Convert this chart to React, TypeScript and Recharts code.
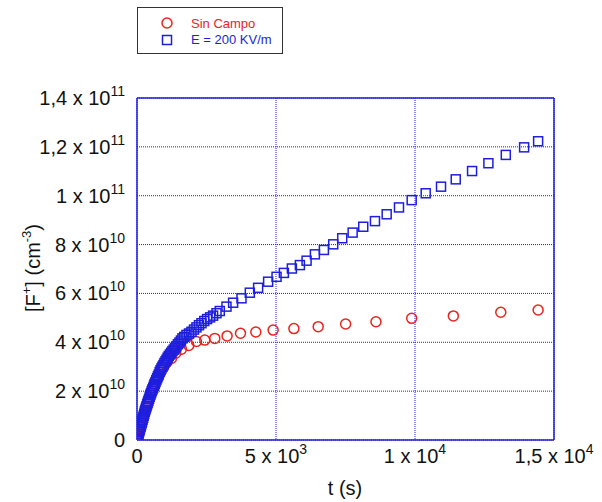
import { ScatterChart, Scatter, XAxis, YAxis, CartesianGrid, ReferenceLine, Legend } from 'recharts';

// Sin Campo (red circles): time in s, [F+] in cm^-3 (x 1e10)
const sinCampoT = [0, 15, 30, 45, 60, 75, 90, 105, 120, 135, 150, 173, 197, 225, 257, 293, 334, 381, 434, 495, 564, 643, 733, 836, 953, 1087, 1239, 1394, 1599, 1862, 2139, 2438, 2798, 3241, 3723, 4274, 4897, 5643, 6518, 7505, 8596, 9881, 11379, 13086, 14429];
const sinCampoF = [0, 0.06, 0.12, 0.19, 0.25, 0.31, 0.38, 0.44, 0.5, 0.56, 0.62, 0.71, 0.81, 0.92, 1.05, 1.19, 1.35, 1.52, 1.72, 1.93, 2.15, 2.38, 2.58, 2.76, 2.98, 3.2, 3.34, 3.55, 3.72, 3.87, 4.03, 4.09, 4.16, 4.26, 4.37, 4.42, 4.5, 4.56, 4.64, 4.75, 4.84, 4.98, 5.08, 5.23, 5.32];

// E = 200 KV/m (blue squares)
const campoT = [0, 18, 36, 54, 72, 90, 108, 126, 144, 162, 180, 200, 220, 240, 260, 280, 300, 322, 344, 366, 388, 410, 434, 458, 482, 506, 532, 558, 584, 610, 638, 666, 694, 724, 754, 784, 816, 848, 882, 916, 952, 988, 1026, 1064, 1104, 1144, 1186, 1230, 1276, 1322, 1370, 1420, 1472, 1526, 1580, 1635, 1700, 1779, 1870, 1959, 2050, 2139, 2230, 2319, 2420, 2521, 2630, 2737, 2860, 2978, 3219, 3457, 3759, 4058, 4357, 4717, 5020, 5283, 5571, 5859, 6100, 6399, 6723, 7058, 7382, 7757, 8138, 8560, 8981, 9424, 9881, 10385, 10936, 11465, 12053, 12640, 13266, 13925, 14429];
const campoF = [0, 0.08, 0.16, 0.24, 0.32, 0.39, 0.46, 0.54, 0.61, 0.68, 0.75, 0.83, 0.91, 0.99, 1.07, 1.16, 1.23, 1.31, 1.38, 1.46, 1.53, 1.6, 1.68, 1.77, 1.85, 1.92, 2.0, 2.07, 2.14, 2.22, 2.29, 2.37, 2.45, 2.53, 2.61, 2.68, 2.78, 2.86, 2.93, 3.0, 3.07, 3.15, 3.22, 3.29, 3.37, 3.44, 3.5, 3.57, 3.64, 3.7, 3.77, 3.84, 3.92, 3.99, 4.07, 4.16, 4.22, 4.3, 4.36, 4.43, 4.52, 4.61, 4.7, 4.78, 4.87, 4.95, 5.02, 5.09, 5.19, 5.28, 5.46, 5.62, 5.8, 6.03, 6.23, 6.48, 6.68, 6.84, 7.02, 7.16, 7.34, 7.6, 7.78, 8.01, 8.26, 8.49, 8.73, 8.96, 9.24, 9.52, 9.82, 10.1, 10.37, 10.67, 11.01, 11.33, 11.67, 11.98, 12.23];

const xTicks = [0, 5000, 10000, 15000];
const yTicks = [0, 2e10, 4e10, 6e10, 8e10, 1e11, 1.2e11, 1.4e11];

const sinCampo = sinCampoT.map((t, i) => ({ t, f: sinCampoF[i] * 1e10 }));
const campo = campoT.map((t, i) => ({ t, f: campoF[i] * 1e10 }));

const FONT = '"Liberation Sans", Arial, sans-serif';
const BLUE = '#1e1ede';
const RED = '#e8241f';

function sci(v: number) {
  if (v === 0) return { m: '0', e: '' };
  const e = Math.floor(Math.log10(v) + 1e-9);
  const m = Math.round((v / Math.pow(10, e)) * 10) / 10;
  return { m: String(m).replace('.', ','), e: String(e) };
}

function XTick(props: any) {
  const { x, y, payload } = props;
  const { m, e } = sci(payload.value);
  return (
    <text x={x} y={y + 23} textAnchor="middle" fontFamily={FONT} fontSize={20} fill="#111">
      {e ? `${m} x 10` : m}
      {e && <tspan dy={-9} fontSize={14}>{e}</tspan>}
    </text>
  );
}

function YTick(props: any) {
  const { x, y, payload } = props;
  const { m, e } = sci(payload.value);
  return (
    <text x={x - 12} y={y + 7} textAnchor="end" fontFamily={FONT} fontSize={20} fill="#111">
      {e ? `${m} x 10` : m}
      {e && <tspan dy={-9} fontSize={14}>{e}</tspan>}
    </text>
  );
}

function XTitle() {
  return (
    <text x={345} y={495} textAnchor="middle" fontFamily={FONT} fontSize={20} fill="#111">t (s)</text>
  );
}

function YTitle() {
  return (
    <text x={0} y={0} transform="translate(40,268) rotate(-90)" textAnchor="middle" fontFamily={FONT} fontSize={20} fill="#111">
      [F<tspan dy={-9} fontSize={13}>+</tspan>
      <tspan dy={9}>] (cm</tspan>
      <tspan dy={-9} fontSize={13}>-3</tspan>
      <tspan dy={9}>)</tspan>
    </text>
  );
}

const RedCircle = (p: any) => (
  <circle cx={p.cx} cy={p.cy} r={5} fill="none" stroke={RED} strokeWidth={1.5} />
);
const BlueSquare = (p: any) => (
  <rect x={p.cx - 4.5} y={p.cy - 4.5} width={9} height={9} fill="none" stroke={BLUE} strokeWidth={1.5} />
);

function LegendBox() {
  return (
    <div style={{ width: 146, height: 47, boxSizing: 'border-box', border: '1.5px solid #333', background: '#fff', position: 'relative', fontFamily: FONT }}>
      <svg width={146} height={47} style={{ position: 'absolute', left: 0, top: 0 }}>
        <circle cx={29} cy={15} r={5} fill="none" stroke={RED} strokeWidth={1.5} />
        <rect x={24.5} y={27.5} width={9} height={9} fill="none" stroke={BLUE} strokeWidth={1.5} />
        <text x={53} y={20} fontSize={13} fill={RED} fontFamily={FONT}>Sin Campo</text>
        <text x={53} y={36} fontSize={13} fill={BLUE} fontFamily={FONT}>E = 200 KV/m</text>
      </svg>
    </div>
  );
}

export default function App() {
  return (
    <div style={{ position: 'absolute', left: 0, top: 0, width: 602, height: 502, background: '#fff' }}>
      <ScatterChart width={602} height={502} margin={{ top: 98, right: 48, bottom: 0, left: 0 }}>
        <CartesianGrid stroke={BLUE} strokeDasharray="1 1" strokeWidth={1} />
        <XAxis
          type="number"
          dataKey="t"
          domain={[0, 15000]}
          ticks={xTicks}
          allowDataOverflow
          height={62}
          tickSize={0}
          tickMargin={0}
          tickLine={false}
          axisLine={{ stroke: BLUE, strokeWidth: 1.5 }}
          tick={<XTick />}
          label={<XTitle />}
        />
        <YAxis
          type="number"
          dataKey="f"
          domain={[0, 1.4e11]}
          ticks={yTicks}
          allowDataOverflow
          width={137}
          tickSize={0}
          tickMargin={0}
          tickLine={false}
          axisLine={{ stroke: BLUE, strokeWidth: 1.5 }}
          tick={<YTick />}
          label={<YTitle />}
        />
        <ReferenceLine x={15000} stroke={BLUE} strokeWidth={1.5} />
        <ReferenceLine y={1.4e11} stroke={BLUE} strokeWidth={1.5} />
        <Legend
          layout="horizontal"
          verticalAlign="middle"
          content={<LegendBox />}
          wrapperStyle={{ position: 'absolute', left: 137, top: 7, width: 146, height: 47 }}
        />
        <Scatter name="Sin Campo" data={sinCampo} shape={RedCircle} isAnimationActive={false} />
        <Scatter name="E = 200 KV/m" data={campo} shape={BlueSquare} isAnimationActive={false} />
      </ScatterChart>
    </div>
  );
}
